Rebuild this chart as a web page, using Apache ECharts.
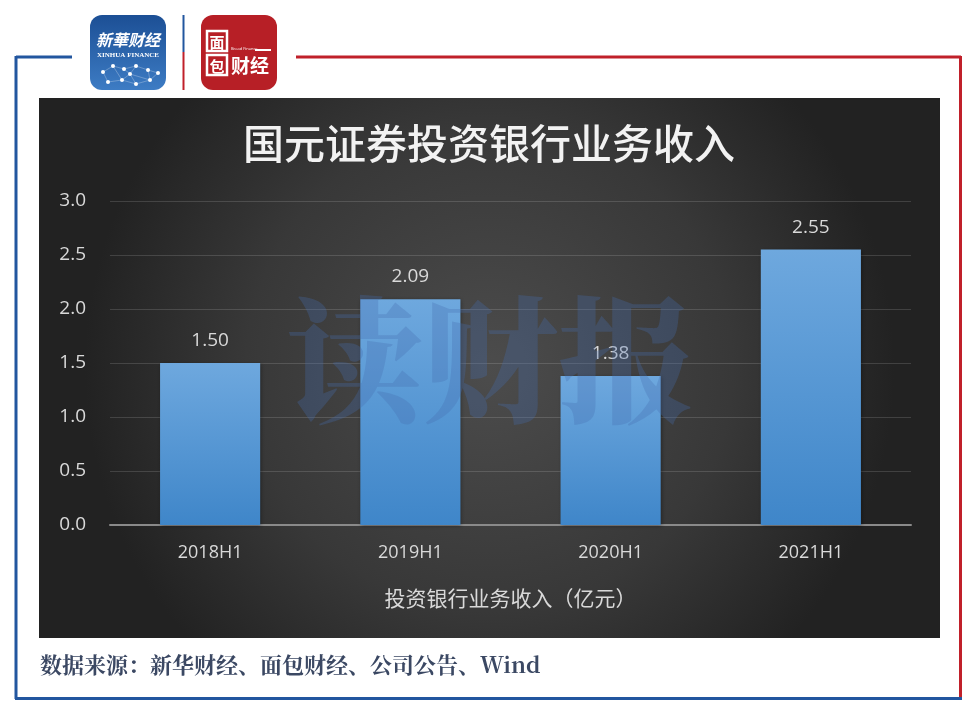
<!DOCTYPE html>
<html>
<head>
<meta charset="utf-8">
<script src="https://cdn.jsdelivr.net/npm/echarts@6/dist/echarts.min.js"></script>
<style>
html,body{margin:0;padding:0;background:#fff;}
#c{width:978px;height:716px;}
</style>
</head>
<body>
<div id="c"></div>
<script>
const categories = ['2018H1', '2019H1', '2020H1', '2021H1'];
const revenue = [1.50, 2.09, 1.38, 2.55];
const yTicks = [0, 0.5, 1.0, 1.5, 2.0, 2.5, 3.0];
const titleText = '国元证券投资银行业务收入';
const axisName = '投资银行业务收入（亿元）';
const sourceText = '数据来源：新华财经、面包财经、公司公告、Wind';
const watermark = '读财报';

const chart = echarts.init(document.getElementById('c'), null, {renderer: 'canvas'});
const CJK = '"Noto Sans CJK SC", "Noto Sans", sans-serif';
const LAT = '"Open Sans", "Noto Sans", "Noto Sans CJK SC", sans-serif';

// network dots for the Xinhua logo
const netPts = [[103,72],[113,66],[124,69],[136,66],[148,70],[158,73],[108,82],[122,80],[136,84],[150,80],[130,74]];
const netLines = [];
const netLinks = [[0,1],[1,2],[2,3],[3,4],[4,5],[0,6],[6,7],[7,8],[8,9],[9,5],[1,7],[2,10],[10,3],[10,8],[4,9],[7,10],[10,9]];
netLinks.forEach(function(l){
  netLines.push({type:'line', z:5, shape:{x1:netPts[l[0]][0],y1:netPts[l[0]][1],x2:netPts[l[1]][0],y2:netPts[l[1]][1]}, style:{stroke:'rgba(255,255,255,0.45)', lineWidth:0.6}});
});
const netDots = netPts.map(function(p){
  return {type:'circle', z:6, shape:{cx:p[0], cy:p[1], r:2}, style:{fill:'#ffffff'}};
});

const graphics = [
  // dark panel with radial gradient
  {type:'rect', z:-100, shape:{x:39, y:98, width:901, height:540},
   style:{fill:{type:'radial', x:0.5, y:0.5, r:0.75, colorStops:[{offset:0, color:'#4c4c4c'},{offset:0.6, color:'#383838'},{offset:1, color:'#222222'}]}}},
  // frame lines
  {type:'line', z:1, shape:{x1:16, y1:57, x2:72, y2:57}, style:{stroke:'#22569f', lineWidth:3}},
  {type:'line', z:1, shape:{x1:16, y1:56, x2:16, y2:699}, style:{stroke:'#22569f', lineWidth:3}},
  {type:'line', z:1, shape:{x1:15, y1:698.5, x2:962, y2:698.5}, style:{stroke:'#22569f', lineWidth:3}},
  {type:'line', z:1, shape:{x1:296, y1:57, x2:961, y2:57}, style:{stroke:'#c0202a', lineWidth:3}},
  {type:'line', z:1, shape:{x1:960.5, y1:56, x2:960.5, y2:697}, style:{stroke:'#c0202a', lineWidth:3}},
  // divider between logos
  {type:'line', z:1, shape:{x1:183.5, y1:15, x2:183.5, y2:52}, style:{stroke:'#22569f', lineWidth:2}},
  {type:'line', z:1, shape:{x1:183.5, y1:52, x2:183.5, y2:90}, style:{stroke:'#c0202a', lineWidth:2}},
  // Xinhua logo
  {type:'rect', z:2, shape:{x:90, y:15, width:76, height:75, r:12},
   style:{fill:{type:'linear', x:0, y:0, x2:0, y2:1, colorStops:[{offset:0, color:'#1c4f95'},{offset:1, color:'#3d7cc4'}]}}},
  {type:'text', z:5, style:{text:'新華财经', x:128, y:40, fill:'#ffffff', font:'italic bold 16px ' + CJK, align:'center', verticalAlign:'middle'}},
  {type:'text', z:5, style:{text:'XINHUA FINANCE', x:128, y:55, fill:'#ffffff', font:'bold 7px "Liberation Serif", serif', align:'center', verticalAlign:'middle'}},
  // Bread Finance logo
  {type:'rect', z:2, shape:{x:201, y:15, width:76, height:75, r:12}, style:{fill:'#b71f26'}},
  {type:'rect', z:4, shape:{x:207, y:31, width:20, height:20}, style:{fill:'none', stroke:'#ffffff', lineWidth:2.5}},
  {type:'text', z:5, style:{text:'面', x:217, y:42, fill:'#ffffff', font:'bold 15px ' + CJK, align:'center', verticalAlign:'middle'}},
  {type:'rect', z:4, shape:{x:207, y:55, width:20, height:20}, style:{fill:'none', stroke:'#ffffff', lineWidth:2.5}},
  {type:'text', z:5, style:{text:'包', x:217, y:66, fill:'#ffffff', font:'bold 15px ' + CJK, align:'center', verticalAlign:'middle'}},
  {type:'text', z:5, style:{text:'Bread Finance', x:231, y:49, fill:'#ffffff', font:'4px ' + LAT, align:'left', verticalAlign:'middle'}},
  {type:'line', z:5, shape:{x1:255, y1:50, x2:271, y2:50}, style:{stroke:'#ffffff', lineWidth:2}},
  {type:'text', z:5, style:{text:'财经', x:250, y:66, fill:'#ffffff', font:'bold 19px ' + CJK, align:'center', verticalAlign:'middle'}},
  // title
  {type:'text', z:20, style:{text:titleText, x:489, y:143, fill:'#f2f2f2', font:'500 41px ' + CJK, align:'center', verticalAlign:'middle',
    shadowColor:'rgba(0,0,0,0.85)', shadowBlur:3, shadowOffsetX:2, shadowOffsetY:2}},
  // watermark
  {type:'text', z:100, style:{text:watermark, x:490, y:360, fill:'rgba(70,110,175,0.30)', font:'900 136px "Noto Serif CJK SC", ' + CJK, align:'center', verticalAlign:'middle'}},
  // source
  {type:'text', z:20, style:{text:sourceText, x:40, y:665, fill:'#3b4863', font:'bold 22px "Noto Serif CJK SC", ' + CJK, align:'left', verticalAlign:'middle'}}
].concat(netLines, netDots);

chart.setOption({
  animation:false,
  backgroundColor:'#ffffff',
  graphic:graphics,
  grid:{left:110, right:67, top:201, bottom:191, containLabel:false},
  xAxis:{
    type:'category',
    data:categories,
    name:axisName,
    nameLocation:'middle',
    nameGap:63,
    nameTextStyle:{color:'#d9d9d9', fontSize:21, fontFamily:CJK},
    axisLine:{lineStyle:{color:'#8a8a8a', width:2}},
    axisTick:{show:false},
    axisLabel:{color:'#d9d9d9', fontSize:18, margin:19, fontFamily:LAT}
  },
  yAxis:{
    type:'value',
    min:yTicks[0],
    max:yTicks[yTicks.length-1],
    interval:0.5,
    axisLine:{show:false},
    axisTick:{show:false},
    splitLine:{lineStyle:{color:'rgba(255,255,255,0.14)', width:1}},
    axisLabel:{color:'#d9d9d9', fontSize:19, margin:24, fontFamily:LAT,
      formatter:function(v){return v.toFixed(1);}}
  },
  series:[{
    type:'bar',
    data:revenue,
    barWidth:'50%',
    itemStyle:{
      color:{type:'linear', x:0, y:0, x2:0, y2:1, colorStops:[{offset:0, color:'#6ea8de'},{offset:1, color:'#3f86c9'}]},
      shadowColor:'rgba(0,0,0,0.35)', shadowBlur:4, shadowOffsetX:1, shadowOffsetY:1
    },
    label:{show:true, position:'top', distance:13, color:'#d9d9d9', fontSize:19, fontFamily:LAT,
      formatter:function(p){return p.value.toFixed(2);}}
  }]
});
</script>
</body>
</html>
